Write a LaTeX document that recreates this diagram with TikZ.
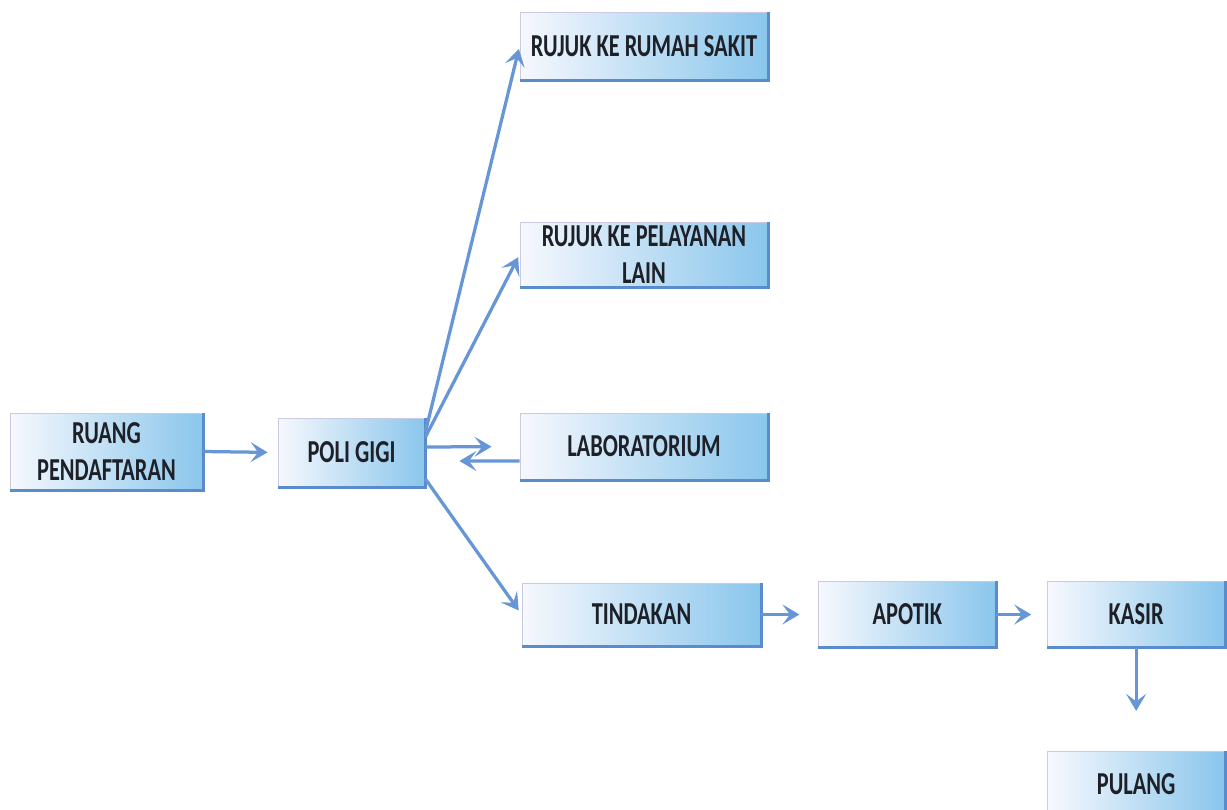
\documentclass[tikz,border=0pt]{standalone}
\usepackage{fontspec}
\setmainfont{Carlito}[FakeStretch=0.7]
\usetikzlibrary{positioning}
\usetikzlibrary{arrows.meta}
\definecolor{boxleft}{RGB}{246,248,253}
\definecolor{boxmid}{RGB}{205,232,246}
\definecolor{boxright}{RGB}{138,198,236}
\definecolor{boxedge}{RGB}{90,140,205}
\definecolor{boxrim}{RGB}{205,200,228}
\definecolor{flowline}{RGB}{102,150,214}
\definecolor{ink}{RGB}{30,32,40}
\tikzset{unit/.style={rectangle, left color=boxleft, middle color=boxmid, right color=boxright,
draw=boxrim, line width=0.5pt, align=center, inner sep=2pt, text=ink,
font=\bfseries\fontsize{18.2}{21}\selectfont}}

\begin{document}
\begin{tikzpicture}[x=0.02cm, y=-0.02cm,
	flow/.style={draw=flowline, line width=0.065cm, -{Stealth[length=0.34cm,width=0.4cm,inset=0.15cm]}},
	rim/.style={draw=boxedge, line width=0.06cm}]
	\useasboundingbox (0,0) rectangle (1227,809);
	\node[unit, minimum width=3.86cm, minimum height=1.54cm] (ruang) at (106.5,451.5) {RUANG\\PENDAFTARAN};
	\node[unit, minimum width=2.94cm, minimum height=1.38cm] (poli) at (351.5,452.5) {POLI GIGI};
	\node[unit, minimum width=4.96cm, minimum height=1.36cm] (rs) at (644,46) {RUJUK KE RUMAH SAKIT};
	\node[unit, minimum width=4.96cm, minimum height=1.26cm] (lain) at (644,254.5) {RUJUK KE PELAYANAN\\LAIN};
	\node[unit, minimum width=4.96cm, minimum height=1.34cm] (lab) at (644,446.5) {LABORATORIUM};
	\node[unit, minimum width=4.78cm, minimum height=1.26cm] (tindakan) at (641.5,614.5) {TINDAKAN};
	\node[unit, minimum width=3.54cm, minimum height=1.32cm, right=1.14cm of tindakan] (apotik) {APOTIK};
	\node[unit, minimum width=3.54cm, minimum height=1.32cm, right=1.02cm of apotik] (kasir) {KASIR};
	\node[unit, minimum width=3.54cm, minimum height=1.3cm, below=2.06cm of kasir] (pulang) {PULANG};
	% darker edge right and below
	\foreach \n in {ruang,poli,rs,lain,lab,tindakan,apotik,kasir,pulang}
		\draw[rim] (\n.north east) -- (\n.south east) -- (\n.south west);
	\draw[flow, shorten >=0.2cm] (ruang.east) -- (poli.west);
	\draw[flow, shorten >=0.06cm] ([yshift=0.41cm]poli.east) -- (rs.west);
	\draw[flow, shorten >=0.06cm] ([yshift=0.31cm]poli.east) -- (lain.west);
	\draw[flow, shorten >=0.56cm] ([yshift=0.11cm]poli.east) -- (lab.west);
	\draw[flow, shorten >=0.68cm] ([yshift=-0.29cm]lab.west) -- ([yshift=-0.17cm]poli.east);
	\draw[flow, shorten >=0.1cm] ([yshift=-0.53cm]poli.east) -- (tindakan.west);
	\draw[flow, shorten >=0.38cm] (tindakan) -- (apotik);
	\draw[flow, shorten >=0.32cm] (apotik) -- (kasir);
	\draw[flow, shorten >=0.8cm] (kasir) -- (pulang);
\end{tikzpicture}
\end{document}
